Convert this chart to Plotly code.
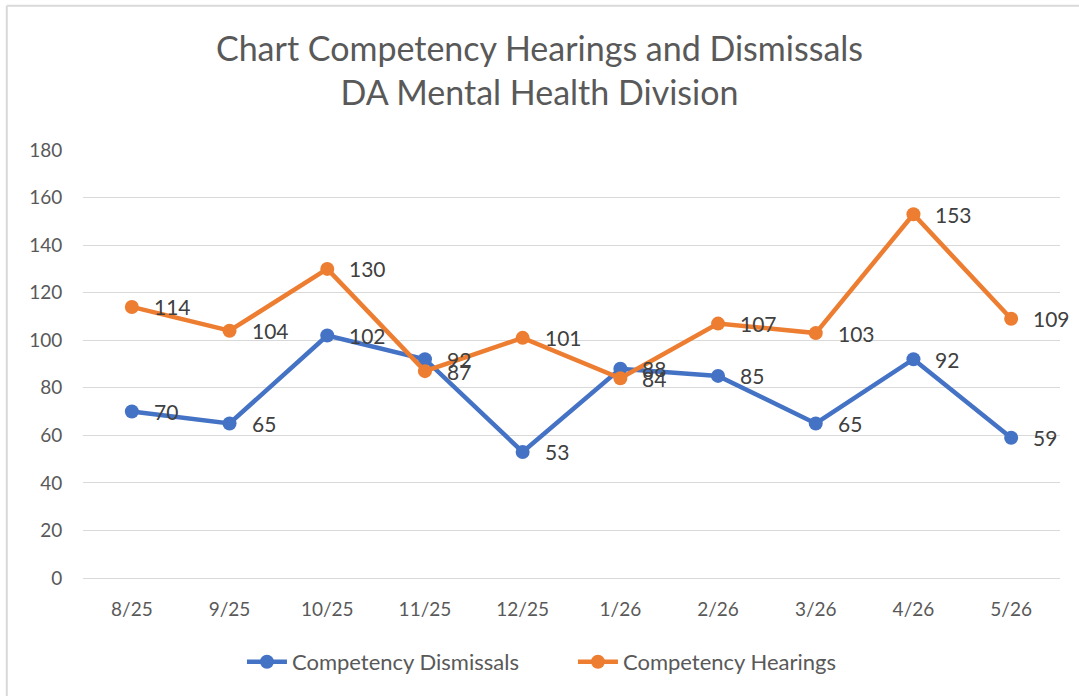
import plotly.graph_objects as go

# monthly counts, DA Mental Health Division
months = ["8/25", "9/25", "10/25", "11/25", "12/25", "1/26", "2/26", "3/26", "4/26", "5/26"]
dismissals = [70, 65, 102, 92, 53, 88, 85, 65, 92, 59]
hearings = [114, 104, 130, 87, 101, 84, 107, 103, 153, 109]
y_ticks = [0, 20, 40, 60, 80, 100, 120, 140, 160, 180]

BLUE = "#4472C4"
ORANGE = "#ED7D31"
FONT = "Lato"

fig = go.Figure()
for name, vals, col in [("Competency Dismissals", dismissals, BLUE),
                        ("Competency Hearings", hearings, ORANGE)]:
    fig.add_trace(go.Scatter(
        x=months, y=vals, name=name, mode="lines+markers",
        line=dict(color=col, width=4.5),
        marker=dict(color=col, size=14)))
    for m, v in zip(months, vals):
        fig.add_annotation(x=m, y=v, text=str(v), showarrow=False,
                           xanchor="left", yanchor="middle", xshift=20,
                           font=dict(family=FONT, size=21, color="#404040"))

# chart frame (top and left edges visible)
fig.add_shape(type="line", xref="paper", yref="paper", x0=-0.078, x1=1.02,
              y0=1.337, y1=1.337, line=dict(color="#d9d9d9", width=2))
fig.add_shape(type="line", xref="paper", yref="paper", x0=-0.078, x1=-0.078,
              y0=-0.3, y1=1.337, line=dict(color="#d9d9d9", width=2))

fig.update_layout(
    width=1079, height=696,
    margin=dict(l=83, r=19, t=150, b=118),
    paper_bgcolor="white", plot_bgcolor="white",
    title=dict(text="Chart Competency Hearings and Dismissals<br>DA Mental Health Division",
               x=0.5, xanchor="center", y=0.912, yanchor="middle",
               font=dict(family=FONT, size=34, color="#595959")),
    font=dict(family=FONT, color="#595959"),
    showlegend=True,
    legend=dict(orientation="h", x=0.1627, xanchor="left", y=-0.196, yanchor="middle",
                font=dict(family=FONT, size=22, color="#595959"),
                itemwidth=40, entrywidth=276),
)
fig.update_xaxes(type="category", range=[-0.5, 9.5], showgrid=False, showline=False,
                 ticks="outside", ticklen=14, tickcolor="rgba(0,0,0,0)",
                 tickfont=dict(family=FONT, size=19, color="#595959"))
fig.update_yaxes(range=[0, 180], tickvals=y_ticks, showgrid=True, gridcolor="#d9d9d9",
                 gridwidth=1, zeroline=True, zerolinecolor="#d9d9d9", zerolinewidth=1,
                 showline=False, ticks="outside", ticklen=16, tickcolor="rgba(0,0,0,0)",
                 tickfont=dict(family=FONT, size=19, color="#595959"))

fig.write_html("out.html", config={"displayModeBar": False},
               post_script="document.body.style.margin='0';")
